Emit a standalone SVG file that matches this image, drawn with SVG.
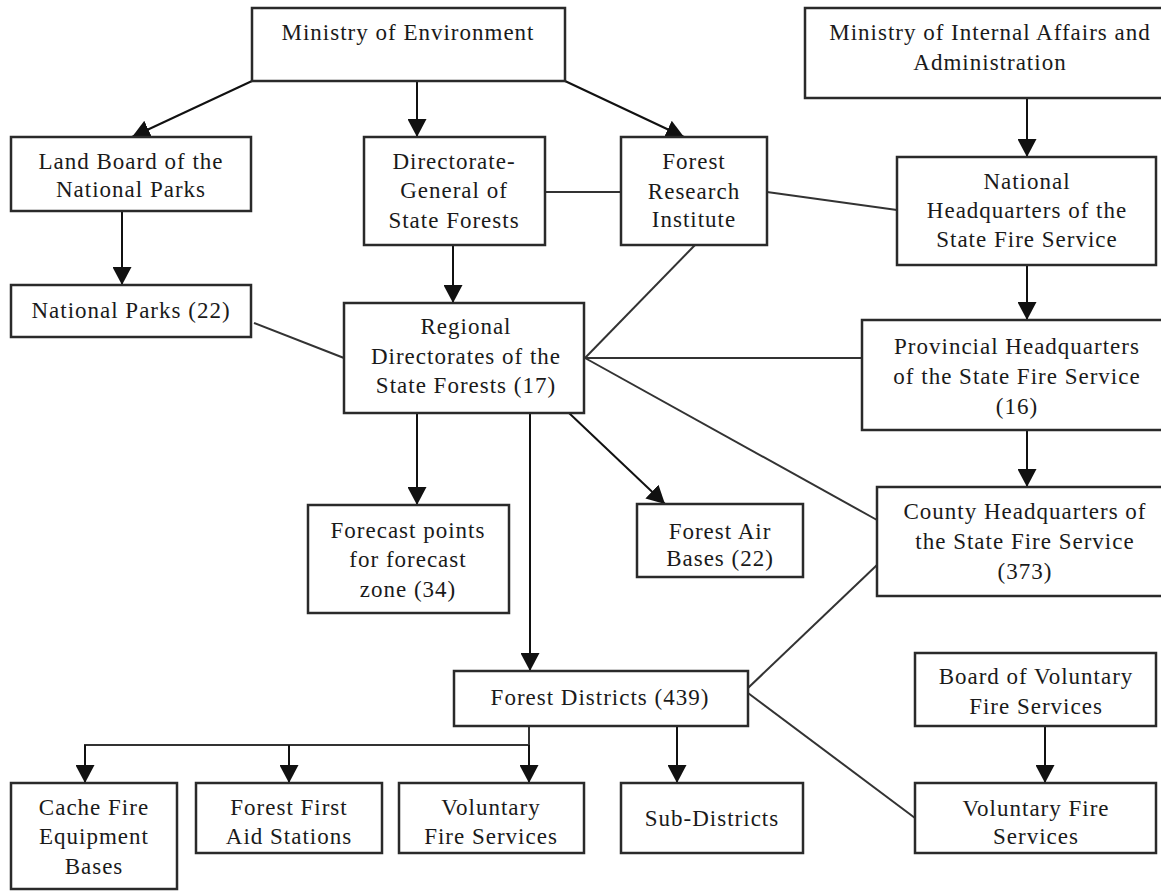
<svg xmlns="http://www.w3.org/2000/svg" width="1161" height="891" viewBox="0 0 1161 891">
<style>
.box{fill:#fff;stroke:#2a2a2a;stroke-width:2.5}
.t{font-family:"Liberation Serif","Times New Roman",serif;font-size:23px;letter-spacing:1px;fill:#1a1a1a;text-anchor:middle}
.a{stroke:#111;stroke-width:2;fill:none;marker-end:url(#ah)}
.l{stroke:#333;stroke-width:2;fill:none}
</style>
<defs>
<marker id="ah" markerUnits="userSpaceOnUse" markerWidth="19" markerHeight="19" refX="18" refY="9.5" orient="auto">
<path d="M0,0 L18,9.5 L0,19 z" fill="#111"/>
</marker>
</defs>
<rect width="1161" height="891" fill="#fff"/>
<g id="connectors">
<path class="a" d="M252,81 L132,137"/>
<path class="a" d="M417,81 L417,137"/>
<path class="a" d="M565,81 L684,137"/>
<path class="a" d="M1027,98 L1027,157"/>
<path class="a" d="M122,211 L122,285"/>
<path class="a" d="M453,245 L453,303"/>
<path class="a" d="M1027,265 L1027,320"/>
<path class="a" d="M1027,430 L1027,487"/>
<path class="a" d="M417,413 L417,505"/>
<path class="a" d="M569,413 L665,504"/>
<path class="a" d="M530,413 L530,671"/>
<path class="l" d="M529,726 L529,745 M84,745 L530,745"/>
<path class="a" d="M85,745 L85,783"/>
<path class="a" d="M289,745 L289,783"/>
<path class="a" d="M529,745 L529,783"/>
<path class="a" d="M677,726 L677,783"/>
<path class="a" d="M1045,726 L1045,783"/>
<path class="l" d="M545,192 L621,192"/>
<path class="l" d="M767,192 L897,210"/>
<path class="l" d="M695,245 L585,358"/>
<path class="l" d="M254,323 L344,358"/>
<path class="l" d="M585,358 L862,358"/>
<path class="l" d="M585,358 L877,520"/>
<path class="l" d="M748,688 L877,565"/>
<path class="l" d="M748,693 L915,818"/>
</g>
<g id="ministry-environment"><rect class="box" x="252" y="8" width="313" height="73"/><text class="t" x="408" y="40">Ministry of Environment</text></g>
<g id="ministry-internal"><rect class="box" x="805" y="8" width="370" height="90"/><text class="t" x="990" y="40">Ministry of Internal Affairs and</text><text class="t" x="990" y="70">Administration</text></g>
<g id="land-board"><rect class="box" x="11" y="137" width="240" height="74"/><text class="t" x="131" y="169">Land Board of the</text><text class="t" x="131" y="197">National Parks</text></g>
<g id="directorate-general"><rect class="box" x="364" y="137" width="181" height="108"/><text class="t" x="454" y="169">Directorate-</text><text class="t" x="454" y="198">General of</text><text class="t" x="454" y="228">State Forests</text></g>
<g id="forest-research"><rect class="box" x="621" y="137" width="146" height="108"/><text class="t" x="694" y="169">Forest</text><text class="t" x="694" y="199">Research</text><text class="t" x="694" y="227">Institute</text></g>
<g id="national-hq"><rect class="box" x="897" y="157" width="259" height="108"/><text class="t" x="1027" y="189">National</text><text class="t" x="1027" y="218">Headquarters of the</text><text class="t" x="1027" y="247">State Fire Service</text></g>
<g id="national-parks"><rect class="box" x="11" y="285" width="240" height="52"/><text class="t" x="131" y="318">National Parks (22)</text></g>
<g id="regional-directorates"><rect class="box" x="344" y="303" width="240" height="110"/><text class="t" x="466" y="334">Regional</text><text class="t" x="466" y="364">Directorates of the</text><text class="t" x="466" y="393">State Forests  (17)</text></g>
<g id="provincial-hq"><rect class="box" x="862" y="320" width="312" height="110"/><text class="t" x="1017" y="354">Provincial Headquarters</text><text class="t" x="1017" y="384">of the State Fire Service</text><text class="t" x="1017" y="414">(16)</text></g>
<g id="forecast-points"><rect class="box" x="308" y="505" width="201" height="108"/><text class="t" x="408" y="538">Forecast points</text><text class="t" x="408" y="567">for forecast</text><text class="t" x="408" y="597">zone (34)</text></g>
<g id="forest-air-bases"><rect class="box" x="637" y="504" width="166" height="73"/><text class="t" x="720" y="539">Forest Air</text><text class="t" x="720" y="566">Bases (22)</text></g>
<g id="county-hq"><rect class="box" x="877" y="487" width="297" height="109"/><text class="t" x="1025" y="519">County Headquarters of</text><text class="t" x="1025" y="549">the State Fire Service</text><text class="t" x="1025" y="579">(373)</text></g>
<g id="forest-districts"><rect class="box" x="454" y="671" width="294" height="55"/><text class="t" x="600" y="705">Forest Districts (439)</text></g>
<g id="board-voluntary"><rect class="box" x="915" y="653" width="241" height="73"/><text class="t" x="1036" y="684">Board of Voluntary</text><text class="t" x="1036" y="714">Fire Services</text></g>
<g id="cache-fire"><rect class="box" x="11" y="783" width="166" height="106"/><text class="t" x="94" y="815">Cache Fire</text><text class="t" x="94" y="844">Equipment</text><text class="t" x="94" y="874">Bases</text></g>
<g id="forest-first-aid"><rect class="box" x="196" y="783" width="186" height="70"/><text class="t" x="289" y="815">Forest First</text><text class="t" x="289" y="844">Aid Stations</text></g>
<g id="voluntary-left"><rect class="box" x="399" y="783" width="185" height="70"/><text class="t" x="491" y="815">Voluntary</text><text class="t" x="491" y="844">Fire Services</text></g>
<g id="sub-districts"><rect class="box" x="621" y="783" width="182" height="70"/><text class="t" x="712" y="826">Sub-Districts</text></g>
<g id="voluntary-right"><rect class="box" x="915" y="783" width="241" height="70"/><text class="t" x="1036" y="816">Voluntary Fire</text><text class="t" x="1036" y="844">Services</text></g>
</svg>
